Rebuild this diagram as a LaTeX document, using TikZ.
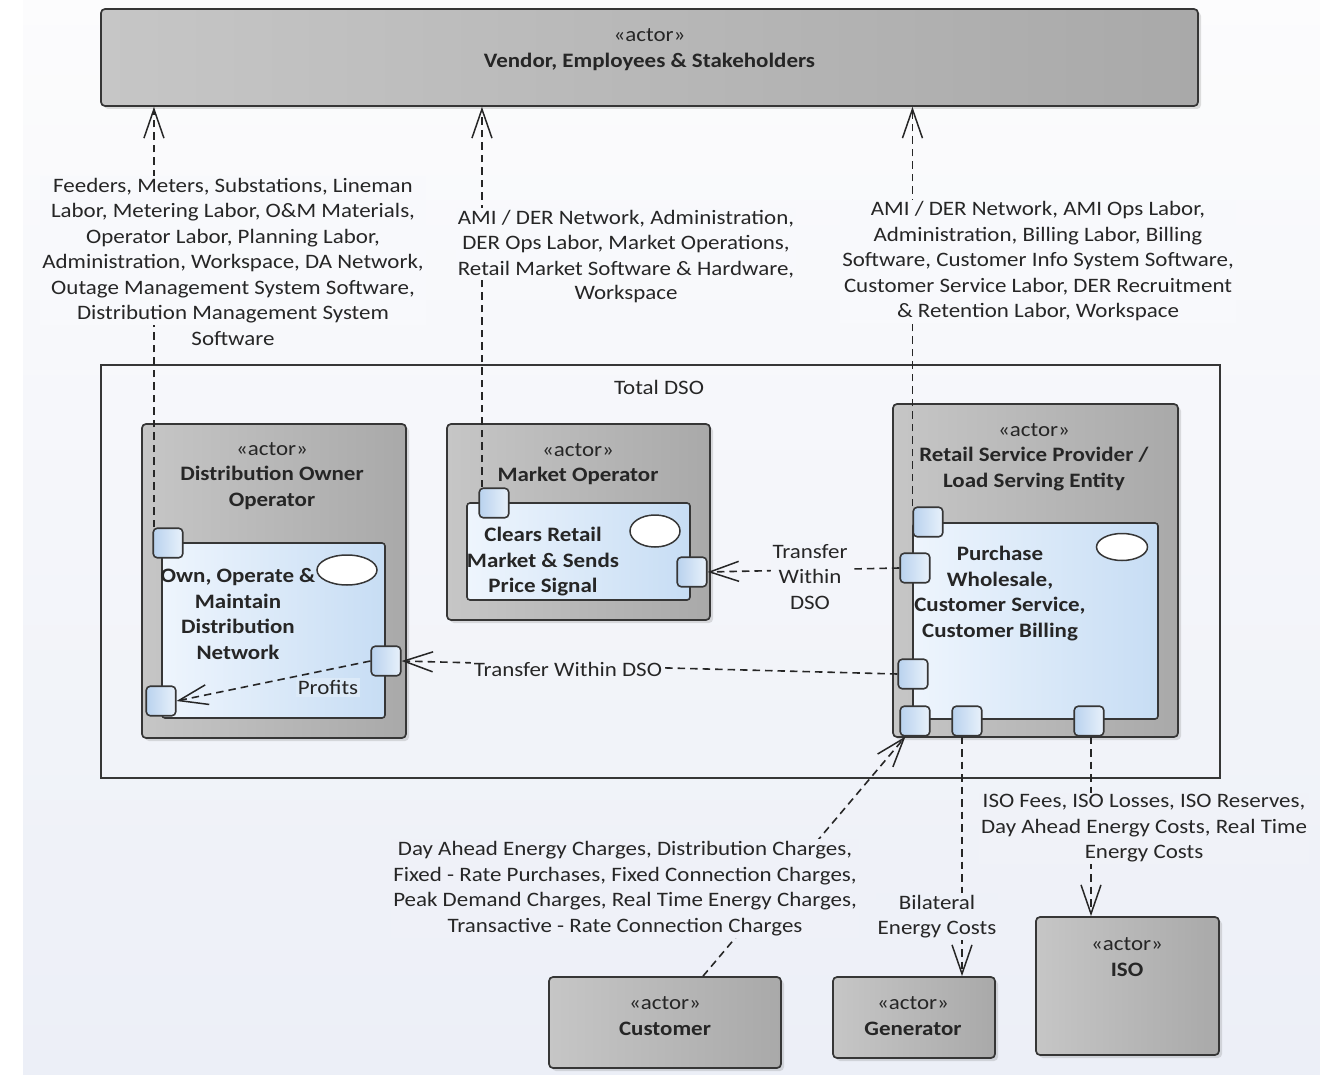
\documentclass[tikz,border=0pt]{standalone}
\usepackage{fontspec}
\setmainfont{Carlito}[FakeStretch=1.12]
\usetikzlibrary{arrows.meta,shadows,shapes.geometric,calc}
\definecolor{ink}{HTML}{262626}
\definecolor{edge}{HTML}{363636}
\definecolor{actL}{HTML}{C6C6C6}
\definecolor{actR}{HTML}{A9A9A9}
\definecolor{partL}{HTML}{EEF5FD}
\definecolor{partR}{HTML}{C7DDF4}
\definecolor{portL}{HTML}{B9D2EE}
\definecolor{portR}{HTML}{E8F1FB}
\definecolor{bgT}{HTML}{FCFCFD}
\definecolor{bgB}{HTML}{ECEFF7}
\definecolor{labP}{HTML}{DCEAF8}
\newcommand\dfont{\fontsize{20.5}{25.5}\selectfont}
\tikzset{
 actbox/.style={draw=edge, line width=1.7pt, rounded corners=4pt, left color=actL, right color=actR, drop shadow={shadow xshift=3pt, shadow yshift=-3pt, opacity=.25}, inner sep=0pt},
 partbox/.style={draw=edge, line width=1.6pt, rounded corners=3pt, left color=partL, right color=partR, inner sep=0pt},
 portbox/.style={draw=edge, line width=1.6pt, rounded corners=4pt, left color=portL, right color=portR, minimum size=29.5pt, inner sep=0pt},
 ovalbox/.style={ellipse, draw=edge, line width=1.5pt, fill=white, inner sep=0pt},
 txt/.style={align=center, inner sep=0pt, text=ink},
 lab/.style={align=center, inner sep=2pt, text=ink},
 dep/.style={draw=ink, line width=1.6pt, dash pattern=on 7.5pt off 5pt, -{Straight Barb[length=29pt,width=20pt,line width=1.5pt]}},
}
\begin{document}
\begin{tikzpicture}[x=1pt,y=-1pt,font=\dfont]
\useasboundingbox (0,0) rectangle (1320,1075);
\fill[white] (0,0) rectangle (1320,1075);
\foreach \i in {0,...,42}{
  \pgfmathsetmacro\f{(\i*25+12.5)/10.75}
  \fill[bgB!\f!bgT] (23,\i*25) rectangle (1320,\i*25+25.6);
}

% vendor
\node[actbox, minimum width=1097pt, minimum height=97pt] (vendor) at (649.5,57.5) {};
\node[txt] (vendorT) at (649.5,49.5) {«actor»\\\textbf{Vendor, Employees \& Stakeholders}};

% DSO frame
\node[draw=edge, line width=1.4pt, minimum width=1119pt, minimum height=413pt, inner sep=0pt] (dso) at (660.5,571.5) {};
\node[txt] (dsoT) at (659,387.5) {Total DSO};

% Distribution owner operator
\node[actbox, minimum width=264pt, minimum height=314pt] (doo) at (274,581) {};
\node[txt] (dooT) at (272,476) {«actor»\\\textbf{Distribution Owner}\\\textbf{Operator}};
\node[partbox, minimum width=223pt, minimum height=175pt] (dooP) at (273.5,630.5) {};
\node[ovalbox, minimum width=60pt, minimum height=30pt] (dooE) at (347,570) {};
\node[txt, font=\dfont\bfseries] (dooPT) at (238,614) {Own, Operate \&\\Maintain\\Distribution\\Network};
\node[portbox] (pA) at (168,543) {};
\node[portbox] (pB) at (386,661) {};
\node[portbox] (pC) at (161,701) {};

% Market operator
\node[actbox, minimum width=263pt, minimum height=196pt] (mo) at (578.5,522) {};
\node[txt] (moT) at (578,464) {«actor»\\\textbf{Market Operator}};
\node[partbox, minimum width=223pt, minimum height=97pt] (moP) at (578.5,551.5) {};
\node[ovalbox, minimum width=50pt, minimum height=32pt] (moE) at (655,531) {};
\node[txt, font=\dfont\bfseries] (moPT) at (543,562) {Clears Retail\\Market \& Sends\\Price Signal};
\node[portbox] (pD) at (494,503) {};
\node[portbox] (pE) at (692,572) {};

% Retail service provider
\node[actbox, minimum width=285pt, minimum height=333pt] (rsp) at (1035.5,570.5) {};
\node[txt] (rspT) at (1034,457) {«actor»\\\textbf{Retail Service Provider /}\\\textbf{Load Serving Entity}};
\node[partbox, minimum width=245pt, minimum height=196pt] (rspP) at (1035.5,621) {};
\node[ovalbox, minimum width=51pt, minimum height=27pt] (rspE) at (1122,547) {};
\node[txt, font=\dfont\bfseries] (rspPT) at (1000,593.5) {Purchase\\Wholesale,\\Customer Service,\\Customer Billing};
\node[portbox] (pF) at (928,522) {};
\node[portbox] (pG) at (915,568) {};
\node[portbox] (pH) at (913,674) {};
\node[portbox] (pI) at (915,721) {};
\node[portbox] (pJ) at (967,721) {};
\node[portbox] (pK) at (1089,721) {};

% bottom actors
\node[actbox, minimum width=232pt, minimum height=91pt] (cust) at (665,1022.5) {};
\node[txt] (custT) at (665,1016) {«actor»\\\textbf{Customer}};
\node[actbox, minimum width=162pt, minimum height=81pt] (gen) at (914,1017.5) {};
\node[txt] (genT) at (913,1016) {«actor»\\\textbf{Generator}};
\node[actbox, minimum width=183pt, minimum height=138pt] (iso) at (1127.5,986) {};
\node[txt] (isoT) at (1127,957) {«actor»\\\textbf{ISO}};

% connectors
\draw[dep] ([xshift=1.5pt]pA.north west) -- ([xshift=1.5pt]pA.north west |- vendor.south);
\draw[dep] ([xshift=3.5pt]pD.north west) -- ([xshift=3.5pt]pD.north west |- vendor.south);
\draw[dep] (pF.north west) -- (pF.north west |- vendor.south);
\draw[dep] (pG.west) -- (pE.east);
\draw[dep] (pH.west) -- (pB.east);
\draw[dep] (pB.west) -- (pC.east);
\draw[dep] ([xshift=38pt]cust.north) -- ([xshift=6pt]pI.south west);
\draw[dep] ([xshift=-5pt]pJ.south) -- ([xshift=48pt]gen.north);
\draw[dep] ([xshift=2pt]pK.south) -- ([xshift=-36.5pt]iso.north);

% labels
\node[lab, fill=bgB!23!bgT] (l1) at (233,250.5) {Feeders, Meters, Substations, Lineman\\Labor, Metering Labor, O\&M Materials,\\Operator Labor, Planning Labor,\\Administration, Workspace, DA Network,\\Outage Management System Software,\\Distribution Management System};
\node[lab] (l1b) at (233,338.5) {Software};
\node[lab, fill=bgB!23!bgT] (l2) at (626,244) {AMI / DER Network, Administration,\\DER Ops Labor, Market Operations,\\Retail Market Software \& Hardware,};
\node[lab] (l2b) at (626,294.5) {Workspace};
\node[lab, fill=bgB!24!bgT] (l3) at (1038,261.5) {AMI / DER Network, AMI Ops Labor,\\Administration, Billing Labor, Billing\\Software, Customer Info System Software,\\Customer Service Labor, DER Recruitment\\\& Retention Labor, Workspace};
\node[lab, fill=bgB!54!bgT] (l4) at (810,577) {Transfer\\Within\\DSO};
\node[lab, fill=bgB!62!bgT, inner sep=3pt] (l5) at (568,669.5) {Transfer Within DSO};
\node[lab, fill=labP] (l6) at (328,687.5) {Profits};
\node[lab, fill=bgB!83!bgT] (l7) at (625,888.5) {Day Ahead Energy Charges, Distribution Charges,\\Fixed - Rate Purchases, Fixed Connection Charges,\\Peak Demand Charges, Real Time Energy Charges,\\Transactive - Rate Connection Charges};
\node[lab, fill=bgB!85!bgT] (l8) at (937,916.5) {Bilateral\\Energy Costs};
\node[lab, fill=bgB!77!bgT] (l9) at (1144,828.5) {ISO Fees, ISO Losses, ISO Reserves,\\Day Ahead Energy Costs, Real Time\\Energy Costs};
\end{tikzpicture}
\end{document}
